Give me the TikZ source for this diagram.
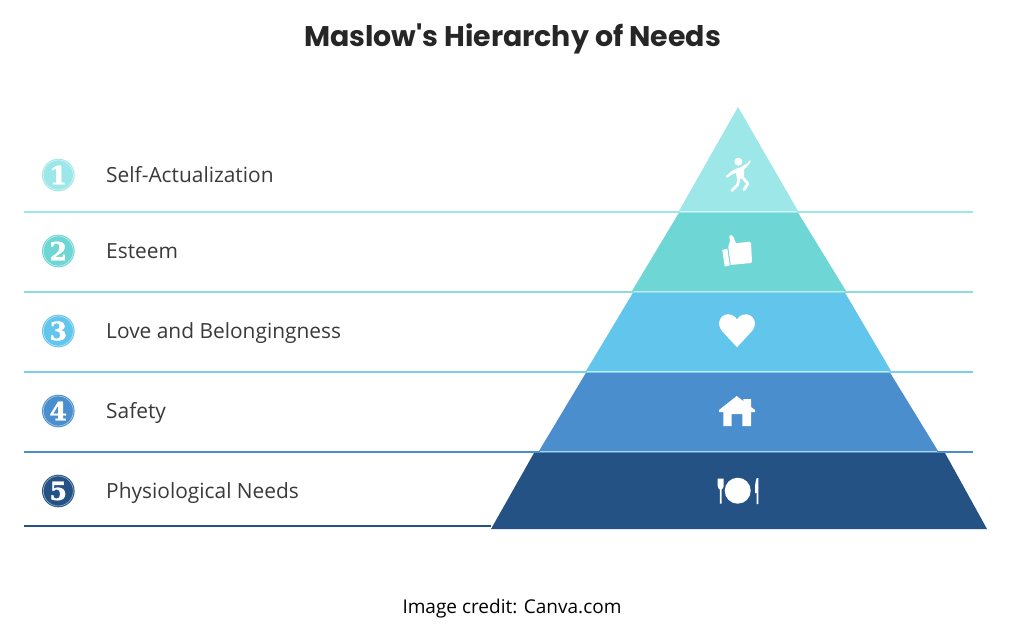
\documentclass[tikz,border=0pt]{standalone}
\usepackage{fontspec}
\setmainfont{Open Sans}
\newfontfamily\titlefont{Poppins}
\newfontfamily\numfont[BoldFeatures={FakeBold=1.6}]{DejaVu Serif}
\definecolor{cA}{HTML}{9EE7E8}
\definecolor{cB}{HTML}{6FD6D6}
\definecolor{cC}{HTML}{62C5EC}
\definecolor{cD}{HTML}{4A8ECE}
\definecolor{cE}{HTML}{245285}
\definecolor{ink}{HTML}{3A3A3A}
\tikzset{
  lbl/.style={anchor=base west,inner sep=0pt,font=\fontsize{20.9}{24}\selectfont,text=ink},
  numdisc/.style={circle,minimum size=32.6pt,inner sep=0pt,text=white,font=\numfont\bfseries\fontsize{25}{26}\selectfont},
  ruleline/.style={line width=2pt},
  icon/.style={fill=white,draw=none},
  iconline/.style={draw=white,line cap=round,line join=round},
}
\newcommand{\numball}[4]{%
  \node[numdisc,fill=#3] (#4) at (58.3,#1) {#2};
  \draw[white,opacity=.5,line width=.7pt] (58.3,#1) circle (15);
}
\begin{document}
\begin{tikzpicture}[x=1pt,y=-1pt]
\useasboundingbox (0,0) rectangle (1024,626);
\fill[white] (0,0) rectangle (1024,626);
% pyramid bands
\fill[cA] (738,107) -- (798,211) -- (679,211) -- cycle;
\fill[cB] (680,211) -- (797,211) -- (846,291) -- (632,291) -- cycle;
\fill[cC] (634,291) -- (844,291) -- (891,371) -- (586,371) -- cycle;
\fill[cD] (587,371) -- (889,371) -- (938,451) -- (539,451) -- cycle;
\fill[cE] (534,453) -- (945,453) -- (987,529) -- (491,529) -- cycle;
% rule lines
\coordinate (la) at (24,211.5); \coordinate (ra) at (973,211.5);
\coordinate (lb) at (24,291.5); \coordinate (rb) at (973,291.5);
\coordinate (lc) at (24,371.5); \coordinate (rc) at (973,371.5);
\coordinate (ld) at (24,451.5); \coordinate (rd) at (973,451.5);
\coordinate (le) at (24,525.5); \coordinate (re) at (491,525.5);
\draw[ruleline,cA] (la) -- (ra);
\draw[ruleline,cB!80!white] (lb) -- (rb);
\draw[ruleline,cC!85!white] (lc) -- (rc);
\draw[ruleline,cD] (ld) -- (rd);
\draw[ruleline,cE] (le) -- (re);
% white halo of the rules inside the pyramid
\draw[white,opacity=.55,line width=1.4pt] (680,211.5) -- (797,211.5);
\draw[white,opacity=.45,line width=1.4pt] (634,291.5) -- (844,291.5);
\draw[white,opacity=.55,line width=1.4pt] (587,371.5) -- (889,371.5);
\draw[white,opacity=.6,line width=1.4pt] (540,451.5) -- (937,451.5);
% title and captions
\node[inner sep=0pt,font=\titlefont\bfseries\fontsize{28.4}{32}\selectfont,text=black!85] (title) at (512.5,39) {Maslow's Hierarchy of Needs};
\node[inner sep=0pt,font=\fontsize{19}{22}\selectfont,text=black] (credit) at (512,609) {Image credit: Canva.com};
% numbered discs and labels
\numball{175}{1}{cA}{n1}
\numball{251}{2}{cB}{n2}
\numball{331}{3}{cC}{n3}
\numball{411}{4}{cD}{n4}
\numball{491}{5}{cE}{n5}
\node[lbl] (t1) at (106,182.5) {Self-Actualization};
\node[lbl] (t2) at (106,258.5) {Esteem};
\node[lbl] (t3) at (106,338.5) {Love and Belongingness};
\node[lbl] (t4) at (106,418.5) {Safety};
\node[lbl] (t5) at (106,498.5) {Physiological Needs};
% icon: person
\fill[icon] (738.3,161.7) circle (4);
\fill[icon] (734,169.5) -- (741,167) -- (747,163.5) -- (750,160) -- (750.5,162) -- (748,165.5) -- (744,169.5) -- (744,178) -- (737,179.5) -- (736,173) -- (733,174) -- (727,177.8) -- (725.8,176) -- cycle;
\draw[iconline,line width=2.8pt] (739,178.5) -- (737.5,185) -- (731.8,190.5);
\draw[iconline,line width=2.8pt] (743,178) -- (747.8,183.5) -- (744,189.8);
% icon: thumb
\fill[icon] (722.3,250) -- (727.3,248.7) -- (729.7,265.3) -- (724.7,266.7) -- cycle;
\fill[icon] (728.3,246.7) -- (730,241) -- (729.3,236) .. controls (730,234.5) and (732.5,234.8) .. (733.3,236.7) -- (736,243.3) -- (749.3,241.7) .. controls (750.5,241.7) and (751,242) .. (751,243) -- (752,261.5) .. controls (752,262.5) and (751.5,263) .. (750.5,263) -- (730.7,265) -- cycle;
% icon: heart
\fill[icon] (737,347.3) -- (722,331) .. controls (715.5,323) and (721,314.3) .. (728,314.3) .. controls (732,314.3) and (735.5,316.5) .. (737,319.5) .. controls (738.5,316.5) and (742,314.3) .. (746,314.3) .. controls (753,314.3) and (758.5,323) .. (752,331) -- cycle;
% icon: house
\fill[icon] (743.3,399) -- (751,399) -- (751,407) -- (743.3,402) -- cycle;
\fill[icon] (736.7,396) -- (755,410) -- (755,412) -- (751,412) -- (751,426) -- (742.3,426) -- (742.3,414) -- (731.7,414) -- (731.7,426) -- (723.3,426) -- (723.3,412) -- (719,412) -- (719,410) -- cycle;
% icon: plate and cutlery
\fill[icon] (737.7,490.7) circle (13);
\fill[icon] (717.7,478.5) -- (723.7,478.5) -- (723.7,486) .. controls (723.7,488) and (722.3,489) .. (721.6,489.5) -- (721.6,503.5) -- (719.8,503.5) -- (719.8,489.5) .. controls (719,489) and (717.7,488) .. (717.7,486) -- cycle;
\fill[icon] (756.8,478) .. controls (755,481) and (755,488) .. (755,493) -- (756.5,493) -- (756.5,504) -- (758.3,504) -- (758.3,478) -- cycle;
\end{tikzpicture}
\end{document}
